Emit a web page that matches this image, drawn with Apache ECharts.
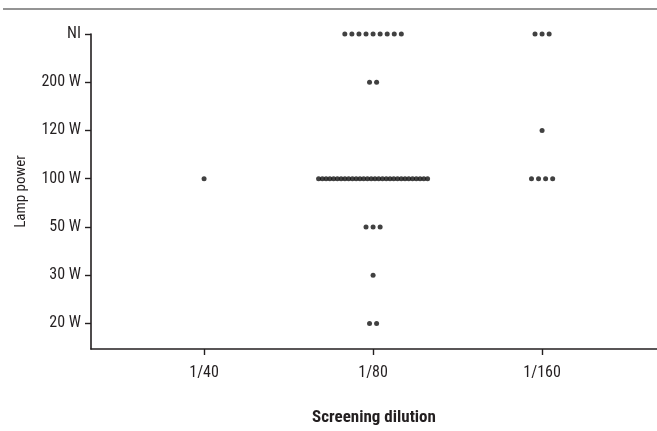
<!DOCTYPE html>
<html>
<head>
<meta charset="utf-8">
<script src="https://cdn.jsdelivr.net/npm/echarts@6/dist/echarts.min.js"></script>
<style>html,body{margin:0;padding:0;background:#fff}#c{width:657px;height:431px}</style>
</head>
<body>
<div id="c"></div>
<script>
// Data
const dilutions = ['1/40', '1/80', '1/160'];
const powers = ['20 W', '30 W', '50 W', '100 W', '120 W', '200 W', 'NI'];
// number of samples per power level (same order as powers), one array per dilution
const counts_1_40 = [0, 0, 0, 1, 0, 0, 0];
const counts_1_80 = [2, 1, 3, 30, 0, 2, 9];
const counts_1_160 = [0, 0, 0, 4, 1, 0, 3];

const allCounts = [counts_1_40, counts_1_80, counts_1_160];
const FONT = '"Roboto Condensed","Liberation Sans Narrow",sans-serif';
const pts = [];
const step = 0.0418, maxSpan = 0.645;
allCounts.forEach((arr, di) => {
  arr.forEach((n, pi) => {
    if (!n) return;
    const s = n > 1 ? Math.min(step, maxSpan / (n - 1)) : 0;
    for (let k = 0; k < n; k++) {
      pts.push([di + 1 + (k - (n - 1) / 2) * s, pi]);
    }
  });
});

const chart = echarts.init(document.getElementById('c'), null, {renderer: 'canvas'});
chart.setOption({
  animation: false,
  textStyle: {fontFamily: FONT},
  graphic: [{type: 'line', shape: {x1: 3, y1: 9, x2: 657, y2: 9}, style: {stroke: '#2a2a2a', lineWidth: 1.2}}],
  grid: {left: 91, right: 0, top: 34, bottom: 77},
  xAxis: {
    type: 'value', min: 0.331, max: 3.68, interval: 1,
    name: 'Screening dilution', nameLocation: 'middle', nameGap: 60,
    nameTextStyle: {fontFamily: FONT, fontSize: 17, fontWeight: 'bold', color: '#231f20'},
    axisLine: {show: true, onZero: false, lineStyle: {color: '#231f20', width: 1.6}},
    axisTick: {show: true, length: 6, lineStyle: {color: '#231f20', width: 1.4}, customValues: [1, 2, 3]},
    axisLabel: {fontFamily: FONT, fontSize: 16, color: '#231f20', margin: 16, customValues: [1, 2, 3],
      formatter: v => dilutions[Math.round(v) - 1] || ''},
    splitLine: {show: false}
  },
  yAxis: {
    type: 'value', min: -0.53, max: 6,
    name: 'Lamp power', nameLocation: 'middle', nameGap: 62,
    nameTextStyle: {fontFamily: FONT, fontSize: 15, color: '#231f20'},
    axisLine: {show: true, onZero: false, lineStyle: {color: '#231f20', width: 1.6}},
    axisTick: {show: true, length: 6, lineStyle: {color: '#231f20', width: 1.4}, customValues: [0, 1, 2, 3, 4, 5, 6]},
    axisLabel: {fontFamily: FONT, fontSize: 16, color: '#231f20', margin: 10, customValues: [0, 1, 2, 3, 4, 5, 6],
      formatter: v => powers[Math.round(v)]},
    splitLine: {show: false}
  },
  series: [{
    type: 'scatter', data: pts, symbol: 'circle', symbolSize: 5,
    itemStyle: {color: '#111'}, silent: true
  }]
});
</script>
</body>
</html>
